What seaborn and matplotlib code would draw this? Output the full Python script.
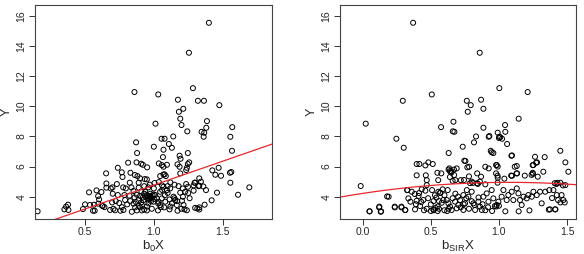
import numpy as np
import pandas as pd
import matplotlib
matplotlib.use("Agg")
import matplotlib.pyplot as plt
import seaborn as sns

# Left panel: Y against b0X
left_x = [1.40, 1.255, 1.284, 0.859, 1.032, 1.175, 1.32, 1.364, 1.476, 1.214, 1.182, 1.192, 1.386,
          1.201, 1.012, 1.570, 1.381, 1.243, 1.347, 1.366, 1.141, 1.362, 1.556, 1.056, 1.078, 0.871,
          1.109, 1.131, 1.0, 1.07, 1.568, 0.878, 1.247, 1.066, 1.187, 1.194, 1.257, 0.874, 0.813,
          0.908, 0.92, 1.036, 1.058, 1.095, 1.172, 1.247, 1.07, 0.951, 0.738, 1.187, 1.24, 1.235,
          1.471, 1.425, 1.563, 0.767, 0.83, 0.653, 0.862, 0.881, 1.078, 1.447, 1.488, 1.553,
          1.33, 0.90, 0.934, 0.949, 1.036, 1.296, 1.556, 1.005, 0.655, 1.289, 1.33, 1.235, 1.694,
          0.687, 0.655, 0.772, 0.731, 0.825, 0.89, 0.699, 0.777, 0.796, 0.837, 1.07, 1.046, 1.087,
          1.192, 1.342, 1.36, 1.248, 1.12, 1.15, 1.10, 1.06, 0.97, 0.96, 0.93, 1.18, 1.21, 1.0, 0.89,
          1.379, 1.459, 1.612, 1.42, 0.583, 0.529, 0.619, 0.595, 0.602, 0.376, 0.362, 0.35, 0.379,
          0.155, 0.485, 0.50, 0.536, 0.558, 0.565, 0.629, 0.641, 0.852, 0.701, 0.738, 0.786, 0.823,
          0.876, 0.91, 0.597, 0.624, 0.697, 0.723, 0.748, 0.767, 0.791, 0.806, 0.828, 0.852, 0.864,
          0.888, 0.908, 0.876, 0.779, 0.706, 0.682, 0.84, 0.913, 0.757, 0.718, 0.57,
          1.369, 1.30, 1.316, 1.331, 1.33, 1.223, 1.172, 1.114, 1.075, 1.046, 1.03, 1.204, 1.211,
          1.192, 1.228, 1.289, 1.30, 1.325, 1.143, 1.155, 1.131, 1.114, 1.095, 1.119, 1.07, 1.046,
          1.01, 0.973, 0.949, 0.937, 0.925, 0.913, 0.961, 0.985, 0.949, 0.998, 1.022, 1.034, 1.058,
          1.083, 1.167, 1.216,
          0.96, 0.97, 0.98, 0.99, 0.975, 0.955, 0.94, 1.0, 0.92, 0.93, 0.90, 0.96, 0.98, 1.0, 0.89,
          0.90, 0.93, 0.95, 0.87, 0.86, 1.032, 1.05, 1.12, 1.15, 1.08, 1.06, 1.10, 1.17, 1.20, 1.24,
          1.25, 1.26]
left_y = [15.55, 13.56, 11.21, 10.95, 10.79, 10.44, 10.37, 10.37, 10.08, 9.84, 9.64, 9.18, 9.02,
          8.76, 8.85, 8.62, 8.58, 8.34, 8.31, 8.25, 8.0, 7.98, 7.98, 7.85, 7.85, 7.61,
          7.50, 7.25, 7.32, 7.12, 7.05, 6.9, 6.9, 6.63, 6.72, 6.52, 6.28, 6.28, 6.26,
          6.19, 6.12, 6.21, 6.1, 6.12, 6.15, 6.17, 5.99, 5.95, 5.92, 5.99, 5.92, 5.77,
          5.92, 5.75, 5.64, 5.62, 5.59, 5.55, 5.44, 5.37, 5.48, 5.46, 5.39, 5.59,
          5.22, 5.22, 5.17, 5.15, 4.97, 4.93, 4.93, 4.91, 4.88, 4.75, 4.73, 4.84, 4.62,
          4.55, 4.6, 5.31, 4.84, 4.93, 4.93, 4.62, 4.62, 4.55, 4.62, 5.48, 5.37, 5.37,
          5.55, 5.0, 4.68, 4.66, 4.95, 4.8, 4.7, 4.75, 4.8, 4.62, 4.7, 4.7, 4.55, 4.55, 4.6,
          4.44, 4.27, 4.13, 3.76, 4.42, 4.29, 4.31, 4.04, 3.82, 3.47, 3.34, 3.16, 3.12,
          3.03, 3.18, 3.49, 3.45, 3.07, 3.47, 3.38, 3.31, 4.38, 4.2, 4.11, 4.11, 4.07,
          4.13, 4.33, 3.54, 3.40, 3.62, 3.71, 3.58, 3.31, 3.78, 3.49, 3.71, 3.54, 3.29,
          3.78, 3.62, 3.09, 3.12, 3.20, 3.12, 3.0, 3.09, 3.07, 3.10, 3.07,
          3.47, 3.26, 3.22, 3.29, 3.15, 3.16, 3.07, 3.16, 3.29, 3.45, 3.09, 3.73, 4.0,
          4.27, 4.33, 4.4, 4.93, 4.7, 4.0, 3.78, 3.56, 3.82, 4.44, 4.55, 4.66, 4.33,
          4.11, 3.89, 4.11, 4.33, 3.78, 3.45, 3.56, 3.2, 3.09, 3.67, 3.89, 3.67, 3.89,
          3.67, 3.45, 3.45,
          4.0, 4.05, 3.95, 4.1, 4.2, 3.9, 4.0, 4.15, 3.95, 4.2, 4.05, 3.8, 3.7, 3.85, 3.4,
          3.3, 3.15, 3.35, 3.65, 3.95, 3.55, 3.3, 3.35, 3.9, 4.1, 4.45, 4.25, 3.7, 3.2, 3.1,
          4.25, 3.9]

# Right panel: Y against b_SIR X
right_x = [0.370, 0.859, 1.003, 1.211, 0.507, 0.294, 0.869, 0.764, 0.793, 0.886, 0.771, 1.145,
           1.045, 0.022, 0.886, 0.575, 0.661, 1.047, 0.991, 0.832, 0.925, 1.003, 1.023, 0.247,
           0.817, 1.06, 0.301, 0.734, 1.451, 0.94, 0.959, 0.631, 1.092, 1.336, 0.754, 0.482,
           1.488, 1.28, 0.416, 0.514, 1.248, 0.984, 0.46, 0.781, 0.9, 1.116, 0.925, 1.133, 1.248,
           1.096, 1.51, 1.326, 1.285, 0.463, 0.548, 0.577, 0.396, 0.636, 0.651, 0.69, 0.671,
           0.869, 0.979, 0.991, 0.744, -0.015, 1.422, 1.451, 1.488,
           0.179, 0.049, 0.12, 0.132, 0.235, 0.284, 0.311, 0.328, 0.36, 0.35, 0.335, 0.396,
           0.382, 0.396, 0.414, 0.421, 0.384, 0.445, 0.433, 0.47, 0.47, 0.509, 0.52, 0.535,
           0.55, 0.56, 0.50, 0.52, 0.54, 0.56, 0.555, 0.587, 0.624,
           0.666, 0.673, 0.93, 1.0, 1.01, 0.947, 1.096, 1.265, 1.273, 1.131, 0.979, 0.991,
           1.253, 0.746, 0.768, 0.63, 0.64, 0.65, 0.67, 0.64, 0.78, 0.84, 0.99, 1.09, 1.13,
           1.19, 1.24, 1.25, 0.554, 0.66, 0.68, 0.72, 0.788, 0.80, 0.81, 0.84, 0.845, 0.86,
           0.90, 0.99, 1.04, 1.41, 1.43, 1.47,
           0.568, 0.592, 0.617, 0.629, 0.641, 0.653, 0.678, 0.69, 0.702, 0.715, 0.739, 0.751,
           0.739, 0.764, 0.776, 0.80, 0.813, 0.825, 0.849, 0.861, 0.874, 0.886, 0.91, 0.923,
           0.947, 0.959, 0.984, 0.996, 1.02, 1.033, 1.057, 1.069, 1.094, 1.106, 1.131, 1.143,
           1.155, 1.167, 1.18, 1.204, 1.216, 1.241, 1.253, 1.278, 1.302, 1.314, 1.375, 1.412,
           1.425, 1.46, 1.40, 1.473,
           0.051, 0.122, 0.135, 0.19, 0.235, 0.284, 0.313, 0.326, 1.047, 1.145, 1.224, 1.366,
           1.415, 1.451, 1.483, 1.39, 1.37, 1.434, 1.34,
           0.45, 0.47, 0.50, 0.52, 0.55, 0.58, 0.60, 0.62, 0.63, 0.66, 0.68, 0.70, 0.72, 0.74,
           0.76, 0.78, 0.80, 0.82, 0.85, 0.88, 0.90, 0.92, 0.95, 0.98, 1.0, 0.97, 0.60, 0.57,
           0.48, 0.43, 0.41, 0.39, 0.46, 0.53]
right_y = [15.55, 13.56, 11.21, 10.95, 10.79, 10.37, 10.44, 10.37, 10.08, 9.84, 9.64, 9.18,
           8.76, 8.85, 8.58, 8.62, 8.34, 8.31, 8.25, 8.0, 7.98, 7.98, 7.85, 7.85,
           7.61, 7.50, 7.25, 7.32, 7.05, 7.05, 6.9, 6.9, 6.72, 6.63, 6.37, 6.28,
           6.28, 6.28, 6.17, 6.17, 6.1, 6.1, 6.08, 5.99, 5.99, 5.99, 5.88, 5.55, 5.59,
           5.39, 5.66, 5.66, 5.33, 5.42, 5.59, 5.55, 5.42, 5.88, 5.68, 5.88, 5.44,
           5.33, 5.55, 5.26, 5.11, 4.71, 4.84, 4.93, 4.77,
           4.02, 3.03, 3.29, 3.0, 3.29, 3.29, 3.11, 4.44, 4.33, 3.67, 3.89, 6.17,
           4.18, 3.73, 4.24, 3.38, 3.16, 3.78, 4.49, 5.1, 4.77, 4.44, 3.1, 3.25,
           3.05, 3.2, 3.49, 3.71, 3.94, 3.71, 4.33, 4.49, 4.44,
           8.98, 8.31, 8.03, 7.9, 7.95, 6.95, 6.74, 6.65, 6.26, 6.04, 6.1, 6.0,
           6.1, 6.39, 5.95, 5.8, 5.7, 5.6, 5.8, 5.31, 5.35, 5.55, 5.4, 5.4, 5.55,
           5.4, 5.45, 5.52, 5.1, 5.05, 5.1, 5.1, 4.9, 5.0, 4.92, 4.9, 4.85, 5.0,
           4.82, 4.93, 5.2, 4.9, 4.92, 4.75,
           4.27, 3.78, 3.78, 3.56, 3.34, 3.12, 3.67, 3.23, 3.45, 3.78, 3.12, 3.56,
           4.11, 4.44, 4.0, 4.33, 3.56, 3.12, 3.67, 3.34, 3.12, 4.0, 4.22, 3.67,
           4.44, 3.89, 3.45, 3.67, 4.0, 4.44, 3.78, 4.11, 4.33, 3.78, 4.55, 4.22,
           3.78, 3.45, 4.0, 3.89, 4.11, 4.0, 4.33, 4.11, 4.33, 3.56, 3.16, 3.16,
           4.11, 4.11, 4.44, 3.78,
           3.03, 3.34, 3.03, 4.0, 3.34, 3.34, 3.12, 4.44, 3.03, 3.03, 3.09, 3.14,
           3.16, 3.62, 3.62, 3.91, 4.44, 3.78, 4.33,
           3.1, 3.2, 3.05, 3.15, 3.35, 3.6, 3.1, 3.05, 3.2, 3.9, 4.2, 4.0, 3.3, 3.5,
           3.9, 3.2, 3.7, 3.45, 3.95, 3.5, 3.1, 3.3, 3.05, 3.35, 3.4, 3.38, 4.1, 4.25,
           3.9, 3.65, 4.05, 3.5, 4.4, 4.1]

# fitted curves (polynomial coefficients, lowest order first)
left_fit = [1.60, 3.17]
right_fit = [4.22, 1.37, -0.64]

left_xlim = (0.136, 1.859)
right_xlim = (-0.167, 1.566)
ylim = (2.52, 16.73)

sns.set_style("white")
plt.rcParams['font.family'] = ['Liberation Sans', 'DejaVu Sans']
plt.rcParams['mathtext.default'] = 'regular'

fig, axes = plt.subplots(1, 2, figsize=(5.84, 2.54), dpi=100)
axes[0].set_position([0.0599, 0.1378, 0.4059, 0.8425])
axes[1].set_position([0.5822, 0.1378, 0.4041, 0.8425])

panels = [
    (axes[0], left_x, left_y, left_fit, left_xlim, [0.5, 1.0, 1.5], r'b$_0$X'),
    (axes[1], right_x, right_y, right_fit, right_xlim, [0.0, 0.5, 1.0, 1.5], r'b$_{SIR}$X'),
]

for ax, xs, ys, fit, xlim, xticks, xlabel in panels:
    df = pd.DataFrame({'x': xs, 'y': ys})
    sns.scatterplot(data=df, x='x', y='y', ax=ax, marker='o', s=13,
                    facecolor='none', edgecolor='black', linewidth=0.7)
    grid = np.linspace(xlim[0], xlim[1], 100)
    curve = np.polyval(fit[::-1], grid)
    sns.lineplot(x=grid, y=curve, ax=ax, color='#e8272c', linewidth=0.9)
    ax.set_xlim(xlim)
    ax.set_ylim(ylim)
    ax.set_xticks(xticks)
    ax.set_xticklabels([f'{t:.1f}' for t in xticks])
    ax.set_yticks([4, 6, 8, 10, 12, 14, 16])
    ax.set_yticklabels(['4', '6', '8', '10', '12', '14', '16'], rotation=90, va='center')
    ax.tick_params(direction='out', length=4, width=0.7, labelsize=7.5, pad=2,
                   left=True, bottom=True, color='#333333')
    for sp in ax.spines.values():
        sp.set_visible(True)
        sp.set_color('#444444')
        sp.set_linewidth(0.8)
    ax.set_xlabel(xlabel, fontsize=9.5, labelpad=1)
    ax.set_ylabel('Y', fontsize=9, labelpad=3)

fig.savefig('out.png', dpi=100)
